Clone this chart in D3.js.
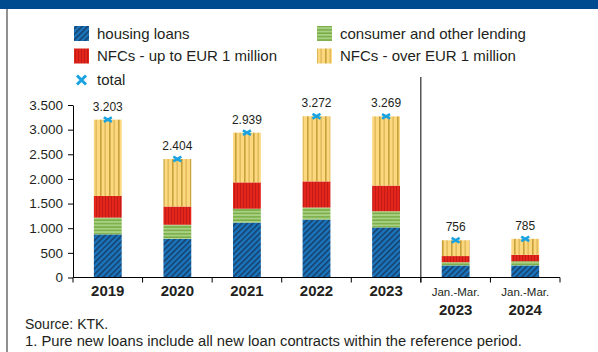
<!DOCTYPE html>
<html>
<head>
<meta charset="utf-8">
<script src="https://cdn.jsdelivr.net/npm/d3@7"></script>
<style>
  html, body { margin: 0; padding: 0; background: #fff; }
  svg { display: block; font-family: "Liberation Sans", Arial, sans-serif; }
</style>
</head>
<body>
<svg id="chart" width="598" height="352"></svg>
<script>
// Pure new loans by segment, EUR million
const categories = ["2019", "2020", "2021", "2022", "2023", "Q1 2023", "Q1 2024"];
const labelTop = ["", "", "", "", "", "Jan.-Mar.", "Jan.-Mar."];
const labelYear = ["2019", "2020", "2021", "2022", "2023", "2023", "2024"];
const housing = [875, 785, 1115, 1175, 1015, 245, 245];
const consumer = [340, 285, 280, 245, 330, 65, 85];
const nfcSmall = [440, 370, 535, 530, 520, 125, 130];
const nfcLarge = [1548, 964, 1009, 1322, 1404, 321, 325];
const totals = [3203, 2404, 2939, 3272, 3269, 756, 785];
const yTicks = [0, 500, 1000, 1500, 2000, 2500, 3000, 3500];

const seriesKeys = ["housing", "consumer", "nfcSmall", "nfcLarge"];
const seriesNames = {
  housing: "housing loans",
  consumer: "consumer and other lending",
  nfcSmall: "NFCs - up to EUR 1 million",
  nfcLarge: "NFCs - over EUR 1 million"
};
const rows = categories.map((c, i) => ({
  cat: c, housing: housing[i], consumer: consumer[i],
  nfcSmall: nfcSmall[i], nfcLarge: nfcLarge[i], total: totals[i]
}));

const svg = d3.select("#chart");
const textColor = "#231f20";
const cyan = "#1ba3e1";

// ---- fill patterns ----
const defs = svg.append("defs");
const pHousing = defs.append("pattern").attr("id", "p-housing")
  .attr("patternUnits", "userSpaceOnUse").attr("width", 4).attr("height", 4)
  .attr("patternTransform", "rotate(45)");
pHousing.append("rect").attr("width", 4).attr("height", 4).attr("fill", "#1b75bc");
pHousing.append("rect").attr("width", 1.4).attr("height", 4).attr("fill", "#163a63");

const pConsumer = defs.append("pattern").attr("id", "p-consumer")
  .attr("patternUnits", "userSpaceOnUse").attr("width", 6).attr("height", 3.4);
pConsumer.append("rect").attr("width", 6).attr("height", 3.4).attr("fill", "#a9d183");
pConsumer.append("rect").attr("y", 1.9).attr("width", 6).attr("height", 1.5).attr("fill", "#78ab46");

const pSmall = defs.append("pattern").attr("id", "p-small")
  .attr("patternUnits", "userSpaceOnUse").attr("width", 3).attr("height", 6);
pSmall.append("rect").attr("width", 3).attr("height", 6).attr("fill", "#e3251c");
pSmall.append("rect").attr("width", 0.9).attr("height", 6).attr("fill", "#c01a15");

const pLarge = defs.append("pattern").attr("id", "p-large")
  .attr("patternUnits", "userSpaceOnUse").attr("width", 9).attr("height", 6);
pLarge.append("rect").attr("width", 9).attr("height", 6).attr("fill", "#fdd87e");
pLarge.append("rect").attr("x", 1).attr("width", 1.6).attr("height", 6).attr("fill", "#c9a13c");
pLarge.append("rect").attr("x", 5.6).attr("width", 1).attr("height", 6).attr("fill", "#d2ad4c");

const fills = {
  housing: "url(#p-housing)", consumer: "url(#p-consumer)",
  nfcSmall: "url(#p-small)", nfcLarge: "url(#p-large)"
};

// ---- frame ----
svg.append("rect").attr("x", 0).attr("y", 0).attr("width", 598).attr("height", 9)
  .attr("fill", "#004b8f");
svg.append("line").attr("x1", 7).attr("x2", 7).attr("y1", 9).attr("y2", 352)
  .attr("stroke", "#6d6d6d").attr("stroke-width", 1.5);

// ---- scales ----
const x = d3.scaleBand().domain(categories).range([73, 560])
  .paddingInner(0.6).paddingOuter(0.3);
const y = d3.scaleLinear().domain([0, 3500]).range([277.5, 105]);
const locale = d3.formatLocale({ decimal: ",", thousands: ".", grouping: [3], currency: ["", ""] });
const fmt = locale.format(",d");

// ---- bars ----
const stacked = d3.stack().keys(seriesKeys)(rows);
const gBars = svg.append("g");
stacked.forEach(layer => {
  gBars.append("g").selectAll("rect").data(layer).join("rect")
    .attr("x", d => x(d.data.cat))
    .attr("width", x.bandwidth())
    .attr("y", d => y(d[1]))
    .attr("height", d => y(d[0]) - y(d[1]))
    .attr("fill", fills[layer.key]);
});

// ---- y axis ----
const yAxis = d3.axisLeft(y).tickValues(yTicks).tickFormat(fmt)
  .tickSize(5).tickSizeOuter(0).tickPadding(5);
const gy = svg.append("g").attr("transform", "translate(73,0)").call(yAxis);
gy.select(".domain").attr("stroke", "#000");
gy.selectAll(".tick line").attr("stroke", "#000");
gy.selectAll(".tick text").attr("fill", textColor)
  .style("font-size", "13.5px").style("font-family", "'Liberation Sans', Arial, sans-serif");

// ---- x axis: baseline with ticks at category boundaries ----
const step = x.step();
const edge = (step - x.bandwidth()) / 2;
const boundaries = categories.map(c => x(c) - edge).concat([x(categories[categories.length - 1]) + x.bandwidth() + edge]);
const gx = svg.append("g");
gx.append("line").attr("x1", boundaries[0]).attr("x2", boundaries[boundaries.length - 1])
  .attr("y1", y(0)).attr("y2", y(0)).attr("stroke", "#000").attr("stroke-width", 1);
gx.selectAll("line.tk").data(boundaries).join("line").attr("class", "tk")
  .attr("x1", d => d).attr("x2", d => d)
  .attr("y1", y(0)).attr("y2", y(0) + 5).attr("stroke", "#000");

// separator between annual and quarterly figures
svg.append("line").attr("x1", boundaries[5]).attr("x2", boundaries[5])
  .attr("y1", 77).attr("y2", y(0) + 5).attr("stroke", "#000").attr("stroke-width", 1);

// category labels
categories.forEach((c, i) => {
  const cx = x(c) + x.bandwidth() / 2;
  if (labelTop[i]) {
    svg.append("text").attr("x", cx).attr("y", 295.5).attr("text-anchor", "middle")
      .attr("fill", textColor).style("font-size", "11.5px").text(labelTop[i]);
    svg.append("text").attr("x", cx).attr("y", 315).attr("text-anchor", "middle")
      .attr("fill", textColor).style("font-size", "15px").style("font-weight", "bold")
      .text(labelYear[i]);
  } else {
    svg.append("text").attr("x", cx).attr("y", 295.5).attr("text-anchor", "middle")
      .attr("fill", textColor).style("font-size", "15px").style("font-weight", "bold")
      .text(labelYear[i]);
  }
});

// ---- total markers and value labels ----
const cross = (w, h) => `M${-w},${-h}L${w},${h}M${-w},${h}L${w},${-h}`;
svg.append("g").selectAll("path").data(rows).join("path")
  .attr("transform", d => `translate(${x(d.cat) + x.bandwidth() / 2},${y(d.total)})`)
  .attr("d", cross(4, 2.3))
  .attr("stroke", cyan).attr("stroke-width", 2.6).attr("fill", "none");
svg.append("g").selectAll("text").data(rows).join("text")
  .attr("x", d => x(d.cat) + x.bandwidth() / 2)
  .attr("y", d => y(d.total) - 9)
  .attr("text-anchor", "middle").attr("fill", textColor)
  .style("font-size", "12px")
  .text(d => fmt(d.total));

// ---- legend ----
const legendItems = [
  { key: "housing", x: 74, y: 33.5 },
  { key: "consumer", x: 317, y: 33.5 },
  { key: "nfcSmall", x: 74, y: 56 },
  { key: "nfcLarge", x: 317, y: 56 }
];
const gl = svg.append("g");
legendItems.forEach(it => {
  gl.append("rect").attr("x", it.x).attr("y", it.y - 7.5).attr("width", 15).attr("height", 15)
    .attr("fill", fills[it.key]);
  gl.append("text").attr("x", it.x + 23).attr("y", it.y + 5.3)
    .attr("fill", textColor).style("font-size", "15px").text(seriesNames[it.key]);
});
gl.append("path").attr("transform", "translate(81.5,80)").attr("d", cross(4.5, 4.5))
  .attr("stroke", cyan).attr("stroke-width", 3).attr("fill", "none");
gl.append("text").attr("x", 97).attr("y", 85.3).attr("fill", textColor)
  .style("font-size", "15px").text("total");

// ---- notes ----
svg.append("text").attr("x", 25).attr("y", 328.5).attr("fill", textColor)
  .style("font-size", "14px").text("Source: KTK.");
svg.append("text").attr("x", 25).attr("y", 345.5).attr("fill", textColor)
  .style("font-size", "14.75px")
  .text("1. Pure new loans include all new loan contracts within the reference period.");
</script>
</body>
</html>
